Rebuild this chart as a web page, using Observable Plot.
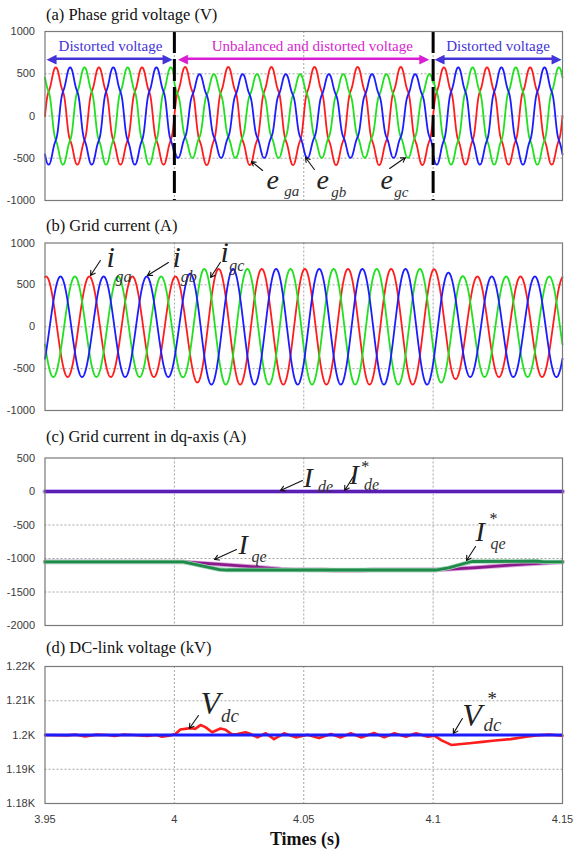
<!DOCTYPE html>
<html><head><meta charset="utf-8">
<script src="https://cdn.jsdelivr.net/npm/d3@7"></script>
<script src="https://cdn.jsdelivr.net/npm/@observablehq/plot@0.6"></script>
<style>
html,body{margin:0;padding:0;background:#fff;}
#root{position:relative;width:575px;height:854px;overflow:hidden;background:#fff;}
#root svg{position:absolute;left:0;}
.ttl{position:absolute;font-family:"Liberation Serif","Times New Roman",serif;font-size:16.5px;line-height:17px;color:#111;white-space:nowrap;}
</style></head><body><div id="root"></div>
<script>
// ---------------- data ----------------
const X_TICKS = [3.95, 4, 4.05, 4.1, 4.15];
const X_TICK_LABELS = ["3.95", "4", "4.05", "4.1", "4.15"];
const X_GRID = [4, 4.05, 4.1];

const TITLES = ["(a) Phase grid voltage (V)", "(b) Grid current (A)", "(c) Grid current in dq-axis (A)", "(d) DC-link voltage (kV)"];
const X_LABEL = "Times (s)";

const VOLT_TICKS = [-1000, -500, 0, 500, 1000];
const VOLT_TICK_LABELS = ["-1000", "-500", "0", "500", "1000"];
const IDQ_TICKS = [-2000, -1500, -1000, -500, 0, 500];
const IDQ_TICK_LABELS = ["-2000", "-1500", "-1000", "-500", "0", "500"];
const VDC_TICKS = [1180, 1190, 1200, 1210, 1220];
const VDC_TICK_LABELS = ["1.18K", "1.19K", "1.2K", "1.21K", "1.22K"];

// (a) grid voltage: segments and peak values per phase
const SEG_EDGES = [3.95, 4.0, 4.1, 4.15];
const SEG_NAMES = ["Distorted voltage", "Unbalanced and distorted voltage", "Distorted voltage"];
const V_PEAK_A = [575, 580, 575];
const V_PEAK_B = [575, 495, 575];
const V_PEAK_C = [575, 495, 575];
const V_HARM_ORDER = [5, 7];
const V_HARM_RATIO = [0.07, 0.025];
const F_GRID = 60;

// (b) grid current: peak envelope
const I_ENV_T = [3.95, 4.003, 4.011, 4.1, 4.112, 4.15];
const I_ENV_A = [600, 600, 690, 690, 600, 600];
const I_PHASE_DEG = -9.4;

// (c) dq currents
const IDE_T = [3.95, 4.15];
const IDE_V = [0, 0];
const IQE_T = [3.95, 4.0036, 4.0165, 4.0295, 4.0411, 4.046, 4.058, 4.062, 4.066, 4.072, 4.076, 4.1013, 4.1169, 4.131, 4.1438, 4.15];
const IQE_V = [-1050, -1052, -1085, -1120, -1158, -1168, -1170, -1178, -1180, -1178, -1170, -1170, -1135, -1095, -1065, -1052];
const IQE_REF_T = [3.95, 4.0035, 4.012, 4.0175, 4.0205, 4.101, 4.106, 4.112, 4.115, 4.14, 4.143, 4.15];
const IQE_REF_V = [-1050, -1050, -1120, -1165, -1172, -1172, -1140, -1075, -1045, -1040, -1050, -1050];

// (d) DC-link voltage
const VDC_T = [3.95, 3.9585, 3.962, 3.9655, 3.97, 3.974, 3.9769, 3.98, 3.984, 3.9896, 3.993, 3.9952, 3.998,
  4.0004, 4.0023, 4.0062, 4.008, 4.0101, 4.012, 4.0146, 4.0178, 4.0198, 4.0224, 4.0243, 4.0275, 4.0295, 4.0321,
  4.0353, 4.0385, 4.0424, 4.0469, 4.0514, 4.0559, 4.0605, 4.0643, 4.0682, 4.0721, 4.0772, 4.0811, 4.085, 4.0895,
  4.0934, 4.0979, 4.1005, 4.1031, 4.107, 4.11, 4.114, 4.119, 4.124, 4.13, 4.136, 4.14, 4.145, 4.15];
const VDC_V = [1200.0, 1199.9, 1200.1, 1199.6, 1200.1, 1200.0, 1199.7, 1200.1, 1200.0, 1199.7, 1200.0, 1199.5, 1199.8,
  1200.3, 1201.6, 1202.0, 1201.8, 1202.9, 1202.3, 1200.8, 1201.9, 1201.5, 1200.1, 1200.3, 1200.8, 1200.3, 1199.3,
  1200.5, 1198.8, 1200.5, 1199.3, 1200.1, 1199.1, 1200.3, 1199.3, 1200.5, 1199.3, 1200.6, 1199.3, 1200.5, 1199.5,
  1200.5, 1199.5, 1199.8, 1198.5, 1197.1, 1197.3, 1197.6, 1198.0, 1198.4, 1198.8, 1199.5, 1199.9, 1200.1, 1199.8];
const VDC_REF = 1200;

// annotations (data coordinates)
const SEG_TEXT_T = [3.9753, 4.0533, 4.1251];
const SEG_TEXT_V = 828;
const SEG_ARROW_T1 = [3.9506, 4.0014, 4.1005];
const SEG_ARROW_T2 = [3.9993, 4.0985, 4.1496];
const SEG_ARROW_V = 677;
const SEG_COLORS = ["#4433d6", "#d81ed0", "#4433d6"];

const LABELS_A = [
  {t: 4.0356, v: -763, main: "e", ts: 4.0425, vs: -893, sub: "ga", t1: 4.0341, v1: -645, t2: 4.0298, v2: -538},
  {t: 4.0549, v: -763, main: "e", ts: 4.0606, vs: -905, sub: "gb", t1: 4.0541, v1: -633, t2: 4.0507, v2: -491},
  {t: 4.0797, v: -763, main: "e", ts: 4.0850, vs: -905, sub: "gc", t1: 4.0832, v1: -621, t2: 4.0893, v2: -491}
];
const LABELS_B = [
  {t: 3.9738, v: 827, main: "i", ts: 3.9772, vs: 600, sub: "ga", t1: 3.9714, v1: 791, t2: 3.9676, v2: 612},
  {t: 3.9993, v: 827, main: "i", ts: 4.0025, vs: 600, sub: "gb", t1: 3.9977, v1: 767, t2: 3.9896, v2: 612},
  {t: 4.0178, v: 887, main: "i", ts: 4.0212, vs: 731, sub: "gc", t1: 4.0178, v1: 770, t2: 4.0140, v2: 588}
];
const LABELS_C = [
  {t: 4.0499, v: 194, main: "I", ts: 4.0555, vs: 75, sub: "de", star: false, t1: 4.0495, v1: 164, t2: 4.0410, v2: 15},
  {t: 4.0677, v: 239, main: "I", ts: 4.0733, vs: 104, sub: "de", star: true, tst: 4.0735, vst: 373, t1: 4.0692, v1: 224, t2: 4.0658, v2: 15},
  {t: 4.0248, v: -806, main: "I", ts: 4.0298, vs: -970, sub: "qe", star: false, t1: 4.0240, v1: -866, t2: 4.0155, v2: -1015},
  {t: 4.1164, v: -612, main: "I", ts: 4.1222, vs: -776, sub: "qe", star: true, tst: 4.1230, vst: -403, t1: 4.1164, v1: -821, t2: 4.1129, v2: -1030}
];
const LABELS_D = [
  {t: 4.0101, v: 1209.2, main: "V", ts: 4.0180, vs: 1205.6, sub: "dc", star: false, t1: 4.0093, v1: 1205.7, t2: 4.0058, v2: 1201.9},
  {t: 4.1113, v: 1205.7, main: "V", ts: 4.1195, vs: 1203.0, sub: "dc", star: true, tst: 4.1225, vst: 1210.5, t1: 4.1113, v1: 1204.8, t2: 4.1078, v2: 1200.4}
];

// ---------------- build ----------------
const RED = "#ff1c1c", GREEN = "#20e020", BLUE = "#1c1cff";
const TICK_FONT = "'Liberation Sans Narrow','Arial Narrow','Liberation Sans',sans-serif";
const SERIF = "'Liberation Serif','Times New Roman',serif";
const root = document.getElementById("root");

const tickMap = (ticks, labels) => { const m = new Map(ticks.map((d, i) => [d, labels[i]])); return d => m.get(d); };

const TT = d3.range(0, 4001).map(k => 3.95 + k * 0.00005);
const seg = t => (t < SEG_EDGES[1] ? 0 : t < SEG_EDGES[2] ? 1 : 2);
const shape = th => Math.sin(th) + V_HARM_ORDER.reduce((s, h, j) => s + V_HARM_RATIO[j] * Math.sin(h * th), 0);
const shapeMax = d3.max(d3.range(0, 3600).map(k => shape(k * Math.PI / 1800)));
const theta = t => 2 * Math.PI * F_GRID * (t - 3.95);
const PH = [0, -2 * Math.PI / 3, 2 * Math.PI / 3];
const vPeaks = [V_PEAK_A, V_PEAK_B, V_PEAK_C];
const vData = PH.map((p, j) => TT.map(t => ({t, v: vPeaks[j][seg(t)] / shapeMax * shape(theta(t) + p)})));
const env = d3.scaleLinear().domain(I_ENV_T).range(I_ENV_A);
const iPh = I_PHASE_DEG * Math.PI / 180;
const iData = PH.map(p => TT.map(t => ({t, v: env(t) * Math.cos(theta(t) + iPh + p)})));

function frameMarks(yGrid) {
  return [
    Plot.gridX(X_GRID, {stroke: "#9a9a9a", strokeOpacity: 1, strokeDasharray: "2,2", strokeWidth: 0.9}),
    Plot.gridY(yGrid, {stroke: "#9a9a9a", strokeOpacity: 1, strokeDasharray: "2,2", strokeWidth: 0.9})
  ];
}
function labelMarks(L, mainSize, subSize) {
  return [
    Plot.arrow(L, {x1: "t1", y1: "v1", x2: "t2", y2: "v2", stroke: "#111", strokeWidth: 1.1, headLength: 7, inset: 0}),
    Plot.text(L, {x: "t", y: "v", text: "main", fontFamily: SERIF, fontStyle: "italic", fontSize: mainSize, textAnchor: "start", fill: "#222"}),
    Plot.text(L, {x: "ts", y: "vs", text: "sub", fontFamily: SERIF, fontStyle: "italic", fontSize: subSize, textAnchor: "start", fill: "#333"}),
    Plot.text(L.filter(d => d.star), {x: "tst", y: "vst", text: () => "*", fontFamily: SERIF, fontStyle: "italic", fontSize: subSize, textAnchor: "middle", fill: "#222"})
  ];
}
function make(top, height, mt, mb, yOpts, marks, showX) {
  const svg = Plot.plot({
    width: 575, height, marginLeft: 44.5, marginRight: 13, marginTop: mt, marginBottom: mb,
    style: {fontFamily: TICK_FONT, fontSize: "11px", color: "#3a3a3a", background: "transparent", overflow: "visible"},
    x: {domain: [3.95, 4.15], ticks: X_TICKS, tickFormat: tickMap(X_TICKS, X_TICK_LABELS), tickSize: 0, tickPadding: 12, label: null, axis: showX ? "bottom" : null},
    y: Object.assign({tickSize: 0, tickPadding: 10, label: null}, yOpts),
    marks
  });
  svg.style.top = top + "px";
  root.appendChild(svg);
}

// (a)
make(20, 190, 11, 10,
  {domain: [-1000, 1000], ticks: VOLT_TICKS, tickFormat: tickMap(VOLT_TICKS, VOLT_TICK_LABELS)},
  [
    ...frameMarks([-500, 0, 500]),
    Plot.line(vData[0], {x: "t", y: "v", stroke: RED, strokeWidth: 1.8}),
    Plot.line(vData[2], {x: "t", y: "v", stroke: GREEN, strokeWidth: 1.8}),
    Plot.line(vData[1], {x: "t", y: "v", stroke: BLUE, strokeWidth: 1.8}),
    Plot.ruleX(SEG_EDGES.slice(1, 3), {stroke: "#000", strokeWidth: 3, strokeDasharray: "22,6"}),
    Plot.link(SEG_NAMES, {x1: (d, i) => SEG_ARROW_T1[i] + 0.002, x2: (d, i) => SEG_ARROW_T2[i] - 0.002, y1: SEG_ARROW_V, y2: SEG_ARROW_V, stroke: (d, i) => SEG_COLORS[i], strokeWidth: 2.6}),
    Plot.text(SEG_NAMES, {x: (d, i) => SEG_ARROW_T1[i], y: SEG_ARROW_V, text: () => "\u25C0", fill: (d, i) => SEG_COLORS[i], textAnchor: "start", fontFamily: "DejaVu Sans", fontSize: 13, dy: 0.5}),
    Plot.text(SEG_NAMES, {x: (d, i) => SEG_ARROW_T2[i], y: SEG_ARROW_V, text: () => "\u25B6", fill: (d, i) => SEG_COLORS[i], textAnchor: "end", fontFamily: "DejaVu Sans", fontSize: 13, dy: 0.5}),
    Plot.text(SEG_NAMES, {x: (d, i) => SEG_TEXT_T[i], y: SEG_TEXT_V, text: d => d, fill: (d, i) => SEG_COLORS[i], fontFamily: SERIF, fontSize: 15}),
    ...labelMarks(LABELS_A, 28, 15),
    Plot.frame({stroke: "#7a7a7a", strokeWidth: 1.2})
  ], false);

// (b)
make(232, 188, 10.5, 10,
  {domain: [-1000, 1000], ticks: VOLT_TICKS, tickFormat: tickMap(VOLT_TICKS, VOLT_TICK_LABELS)},
  [
    ...frameMarks([-500, 0, 500]),
    Plot.line(iData[0], {x: "t", y: "v", stroke: RED, strokeWidth: 1.8}),
    Plot.line(iData[2], {x: "t", y: "v", stroke: GREEN, strokeWidth: 1.8}),
    Plot.line(iData[1], {x: "t", y: "v", stroke: BLUE, strokeWidth: 1.8}),
    ...labelMarks(LABELS_B, 30, 16),
    Plot.frame({stroke: "#7a7a7a", strokeWidth: 1.2})
  ], false);

// (c)
const ideRows = IDE_T.map((t, i) => ({t, v: IDE_V[i]}));
const iqeRows = IQE_T.map((t, i) => ({t, v: IQE_V[i]}));
const iqeRefRows = IQE_REF_T.map((t, i) => ({t, v: IQE_REF_V[i]}));
make(447, 188, 10.5, 10,
  {domain: [-2000, 500], ticks: IDQ_TICKS, tickFormat: tickMap(IDQ_TICKS, IDQ_TICK_LABELS)},
  [
    ...frameMarks([-1500, -1000, -500]),
    Plot.line(ideRows, {x: "t", y: "v", stroke: "#c9b6f2", strokeWidth: 5}),
    Plot.line(ideRows, {x: "t", y: "v", stroke: "#5a1fb0", strokeWidth: 2.8}),
    Plot.line(iqeRows, {x: "t", y: "v", stroke: "#dca6dc", strokeWidth: 4.6}),
    Plot.line(iqeRows, {x: "t", y: "v", stroke: "#8c1a8c", strokeWidth: 2.8}),
    Plot.line(iqeRefRows, {x: "t", y: "v", stroke: "#9fd4b2", strokeWidth: 4.4}),
    Plot.line(iqeRefRows, {x: "t", y: "v", stroke: "#1f8a4a", strokeWidth: 2.8}),
    ...labelMarks(LABELS_C, 28, 16),
    Plot.frame({stroke: "#7a7a7a", strokeWidth: 1.2})
  ], false);

// (d)
const vdcRows = VDC_T.map((t, i) => ({t, v: VDC_V[i]}));
make(656, 187, 10, 40,
  {domain: [1180, 1220], ticks: VDC_TICKS, tickFormat: tickMap(VDC_TICKS, VDC_TICK_LABELS)},
  [
    ...frameMarks([1190, 1200, 1210]),
    Plot.line(vdcRows, {x: "t", y: "v", stroke: RED, strokeWidth: 2.6}),
    Plot.ruleY([VDC_REF], {x1: 3.95, x2: 4.15, stroke: BLUE, strokeWidth: 3}),
    ...labelMarks(LABELS_D, 32, 19),
    Plot.frame({stroke: "#7a7a7a", strokeWidth: 1.2})
  ], true);

// titles
const titleTops = [6, 216.5, 427.5, 638.5];
TITLES.forEach((s, i) => {
  const d = document.createElement("div");
  d.className = "ttl"; d.textContent = s;
  d.style.left = "46px"; d.style.top = titleTops[i] + "px";
  root.appendChild(d);
});
const xl = document.createElement("div");
xl.className = "ttl"; xl.textContent = X_LABEL;
xl.style.fontWeight = "bold"; xl.style.fontSize = "18px";
xl.style.left = "305px"; xl.style.top = "831px"; xl.style.transform = "translateX(-50%)";
root.appendChild(xl);
</script></body></html>
